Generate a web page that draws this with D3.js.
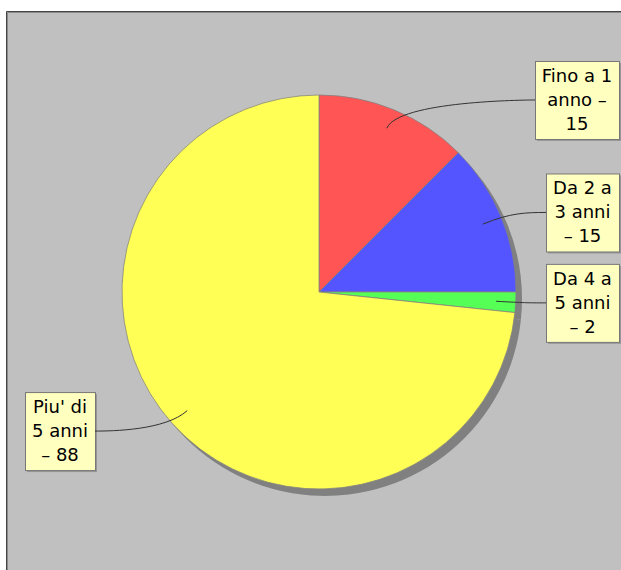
<!DOCTYPE html>
<html>
<head>
<meta charset="utf-8">
<script src="https://cdn.jsdelivr.net/npm/d3@7"></script>
<style>
  html, body { margin: 0; padding: 0; background: #fff; }
  svg { display: block; }
  text { font-family: 'DejaVu Sans', sans-serif; font-size: 18px; fill: #000; }
</style>
</head>
<body>
<svg id="chart" width="621" height="570"></svg>
<script>
// slice data
const categories = ['Fino a 1 anno', 'Da 2 a 3 anni', 'Da 4 a 5 anni', "Piu' di 5 anni"]
const values = [15, 15, 2, 88]
const colors = ['#ff5555', '#5555ff', '#55ff55', '#ffff55']
// label text as wrapped in the picture
const labelLines = [
  ['Fino a 1', 'anno –', '15'],
  ['Da 2 a', '3 anni', '– 15'],
  ['Da 4 a', '5 anni', '– 2'],
  ["Piu' di", '5 anni', '– 88']
]

const W = 621
const H = 570
const svg = d3.select('#chart')

// plot background + border (chart is cropped on right/bottom)
svg.append('rect').attr('x', 7).attr('y', 12).attr('width', W).attr('height', H).attr('fill', '#c0c0c0')
svg.append('path').attr('d', `M6.5,${H}V11.5H${W}`).attr('fill', 'none').attr('stroke', '#444')
svg.append('path').attr('d', `M7.5,${H}V12.5H${W}`).attr('fill', 'none').attr('stroke', '#8a8a8a')

const cx = 319
const cy = 292
const r = 197

const pie = d3.pie().sort(null).value(d => d)
const arcs = pie(values)
const arc = d3.arc().innerRadius(0).outerRadius(r)

const g = svg.append('g').attr('transform', `translate(${cx},${cy})`)

// shadow
g.append('g').attr('transform', 'translate(6,7)')
  .selectAll('path').data(arcs).enter().append('path')
  .attr('d', arc).attr('fill', '#808080')

g.append('g').selectAll('path').data(arcs).enter().append('path')
  .attr('d', arc)
  .attr('fill', (d, i) => colors[i])
  .attr('stroke', '#808080')
  .attr('stroke-width', 0.75)

// labels
const lineH = 24
const pad = 7
const boxH = 78
const linkR = r * 0.9
const elbowR = r * 1.05
const labelR = r * 1.055

arcs.forEach((d, i) => {
  const mid = (d.startAngle + d.endAngle) / 2
  const sx = Math.sin(mid)
  const sy = -Math.cos(mid)
  const right = sx >= 0
  const ly = cy + sy * labelR

  const lg = svg.append('g')
  const texts = labelLines[i].map((t, k) => lg.append('text')
    .attr('text-anchor', 'middle')
    .attr('y', ly - 18 + k * lineH)
    .text(t))
  const tw = d3.max(texts, t => t.node().getComputedTextLength())
  const bw = Math.round(tw + pad * 2)
  const bx = right ? 619 - bw : 25
  texts.forEach(t => t.attr('x', bx + bw / 2))

  lg.insert('rect', 'text').attr('x', bx + 2).attr('y', ly - boxH / 2 + 2)
    .attr('width', bw).attr('height', boxH).attr('fill', '#979797')
  lg.insert('rect', 'text').attr('x', bx + 0.5).attr('y', ly - boxH / 2 + 0.5)
    .attr('width', bw).attr('height', boxH)
    .attr('fill', '#ffffc0').attr('stroke', '#777').attr('stroke-width', 1)

  // leader curve: box edge -> elbow -> link point inside slice
  const tx = right ? bx : bx + bw
  const ax = right ? cx + elbowR : cx - elbowR
  const ex = cx + sx * elbowR
  const ey = cy + sy * elbowR
  const kx = cx + sx * linkR
  const ky = cy + sy * linkR
  const p = d3.path()
  p.moveTo(tx, ly)
  p.bezierCurveTo(ax, ly, ex, ey, kx, ky)
  svg.append('path').attr('d', p.toString())
    .attr('fill', 'none').attr('stroke', '#333').attr('stroke-width', 1)
})
</script>
</body>
</html>
